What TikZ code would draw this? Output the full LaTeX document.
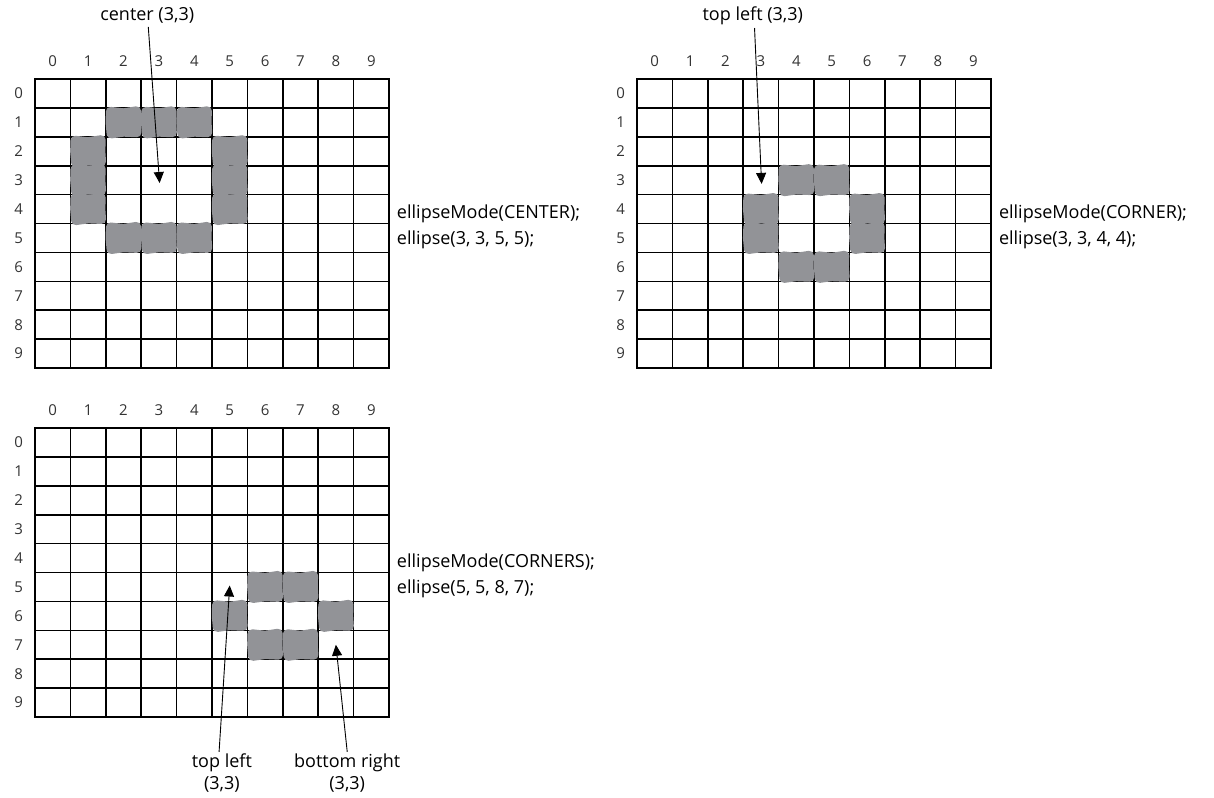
\documentclass[tikz,border=0pt]{standalone}
\usepackage{fontspec}
\setmainfont{Open Sans}
\usetikzlibrary{arrows.meta}

\newcommand*{\cellw}{35.4pt}
\newcommand*{\cellh}{28.9pt}

\definecolor{scribblegray}{RGB}{146,147,151}

\tikzset{
	gridline/.style={line width=1.6pt,line cap=rect},
	scribble/.style={draw=scribblegray,fill=scribblegray,line width=9pt,line cap=round,line join=round},
	numlabel/.style={font=\fontsize{15}{16}\selectfont,text=black!80},
	codetext/.style={anchor=west,align=left,inner sep=0pt,font=\fontsize{18}{26}\selectfont},
	pointer/.style={-{Triangle[length=11pt,width=10pt]},line width=0.9pt},
	panel/.style={x=\cellw,y=-\cellh},
}

% one scribbled pixel, cell coordinates (column, row)
\newcommand*{\scribblecell}[2]{%
	\draw[scribble] (#1+0.13,#2+0.12) -- (#1+0.5,#2+0.17) -- (#1+0.87,#2+0.1)
		-- (#1+0.86,#2+0.5) -- (#1+0.88,#2+0.86) -- (#1+0.5,#2+0.84)
		-- (#1+0.15,#2+0.9) -- (#1+0.12,#2+0.5) -- cycle;
}

% grid with its row and column numbers
\newcommand*{\pixelgrid}{%
	\foreach \i in {0,...,9} {
		\node[numlabel] (col\i) at (\i+0.5,-0.62) {\i};
		\node[numlabel] (row\i) at (-0.46,\i+0.5) {\i};
	}
	\foreach \i in {0,...,10} {
		\draw[gridline] (\i,0) -- (\i,10);
		\draw[gridline] (0,\i) -- (10,\i);
	}
}

\begin{document}
\begin{tikzpicture}[x=1pt,y=-1pt,font=\fontsize{18}{22}\selectfont]

	\useasboundingbox (0,0) rectangle (1214,797);

	% ellipseMode(CENTER)
	\begin{scope}[shift={(35pt,-79pt)},panel]
		\pixelgrid
		\foreach \c in {2,3,4} {
			\scribblecell{\c}{1}
			\scribblecell{\c}{5}
		}
		\foreach \r in {2,3,4} {
			\scribblecell{1}{\r}
			\scribblecell{5}{\r}
		}
		\node (centerlbl) at (3.17,-2.2) {center (3,3)};
		\coordinate (centertip) at (3.52,3.6);
		\draw[pointer] (centerlbl.south) ++(0.03,0) -- (centertip);
		\node[codetext] (centercode) at (10.22,5.1) {ellipseMode(CENTER);\\ellipse(3, 3, 5, 5);};
	\end{scope}

	% ellipseMode(CORNER)
	\begin{scope}[shift={(637pt,-79pt)},panel]
		\pixelgrid
		\foreach \c in {4,5} {
			\scribblecell{\c}{3}
			\scribblecell{\c}{6}
		}
		\foreach \r in {4,5} {
			\scribblecell{3}{\r}
			\scribblecell{6}{\r}
		}
		\node (cornerlbl) at (3.27,-2.2) {top left (3,3)};
		\coordinate (cornertip) at (3.52,3.63);
		\draw[pointer] (cornerlbl.south) ++(0.05,0) -- (cornertip);
		\node[codetext] (cornercode) at (10.22,5.1) {ellipseMode(CORNER);\\ellipse(3, 3, 4, 4);};
	\end{scope}

	% ellipseMode(CORNERS)
	\begin{scope}[shift={(35pt,-428pt)},panel]
		\pixelgrid
		\foreach \c in {6,7} {
			\scribblecell{\c}{5}
			\scribblecell{\c}{7}
		}
		\scribblecell{5}{6}
		\scribblecell{8}{6}
		\node[align=center,inner sep=2pt] (toplbl) at (5.28,11.95) {top left\\(3,3)};
		\node[align=center,inner sep=2pt] (bottomlbl) at (8.82,11.95) {bottom right\\(3,3)};
		\coordinate (toptip) at (5.5,5.45);
		\coordinate (bottomtip) at (8.5,7.5);
		\draw[pointer] (toplbl.north) ++(-0.08,0) -- (toptip);
		\draw[pointer] (bottomlbl.north) -- (bottomtip);
		\node[codetext] (cornerscode) at (10.22,5.1) {ellipseMode(CORNERS);\\ellipse(5, 5, 8, 7);};
	\end{scope}

\end{tikzpicture}
\end{document}
